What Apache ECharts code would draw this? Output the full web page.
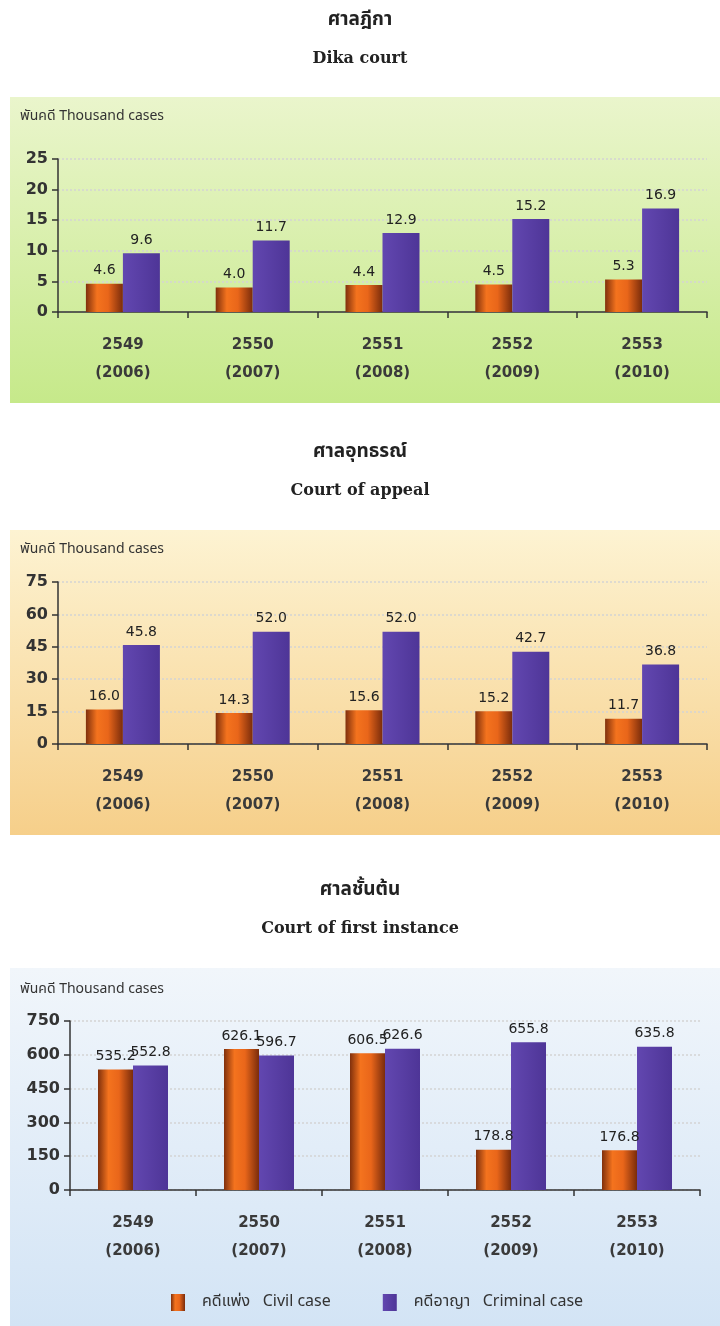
<!DOCTYPE html>
<html>
<head>
<meta charset="utf-8">
<script src="https://cdn.jsdelivr.net/npm/echarts@6/dist/echarts.min.js"></script>
<style>
  html, body { margin: 0; padding: 0; background: #fff; }
  #main { width: 720px; height: 1326px; }
</style>
</head>
<body>
<div id="main"></div>
<script>
// ข้อมูล (พันคดี)
var years = ['2549\n(2006)', '2550\n(2007)', '2551\n(2008)', '2552\n(2009)', '2553\n(2010)'];
var dikaCivil = [4.6, 4.0, 4.4, 4.5, 5.3];
var dikaCriminal = [9.6, 11.7, 12.9, 15.2, 16.9];
var appealCivil = [16.0, 14.3, 15.6, 15.2, 11.7];
var appealCriminal = [45.8, 52.0, 52.0, 42.7, 36.8];
var firstCivil = [535.2, 626.1, 606.5, 178.8, 176.8];
var firstCriminal = [552.8, 596.7, 626.6, 655.8, 635.8];

var civilName = 'คดีแพ่ง   Civil case';
var criminalName = 'คดีอาญา   Criminal case';

var thaiFont = "'Noto Sans Thai', 'Noto Sans', 'DejaVu Sans', sans-serif";
var numFont = "'DejaVu Sans', Verdana, sans-serif";

var orange = new echarts.graphic.LinearGradient(0, 0, 1, 0, [
  { offset: 0, color: '#80300c' },
  { offset: 0.3, color: '#f4731e' },
  { offset: 0.6, color: '#e9661a' },
  { offset: 1, color: '#7a2c0b' }
]);
var purple = new echarts.graphic.LinearGradient(0, 0, 1, 0, [
  { offset: 0, color: '#6247b0' },
  { offset: 1, color: '#4e3597' }
]);

function bg(y, h, top, bottom) {
  return {
    type: 'rect', left: 10, top: y, z: -10,
    shape: { width: 710, height: h },
    style: { fill: new echarts.graphic.LinearGradient(0, 0, 0, 1, [
      { offset: 0, color: top }, { offset: 1, color: bottom }
    ]) }
  };
}

function xAx(i) {
  return {
    type: 'category', gridIndex: i, data: years,
    axisLine: { lineStyle: { color: '#333', width: 1.5 } },
    axisTick: { show: true, length: 6, lineStyle: { color: '#333', width: 1.5 } },
    axisLabel: { color: '#3a3a3a', fontFamily: numFont, fontSize: 15, fontWeight: 'bold', lineHeight: 28, margin: 19 },
    splitLine: { show: false }
  };
}
function yAx(i, max, step) {
  return {
    type: 'value', gridIndex: i, min: 0, max: max, interval: step,
    axisLine: { show: true, lineStyle: { color: '#333', width: 1.5 } },
    axisTick: { show: true, length: 6, lineStyle: { color: '#333', width: 1.5 } },
    axisLabel: { color: '#333', fontFamily: numFont, fontSize: 16, fontWeight: 'bold', margin: 10 },
    splitLine: { show: true, lineStyle: { color: '#d4d4d4', type: [2, 2], width: 1.5 } }
  };
}
function bar(name, i, data, color, w) {
  return {
    name: name, type: 'bar', xAxisIndex: i, yAxisIndex: i,
    data: data, barWidth: w, barGap: '0%',
    itemStyle: { color: color },
    label: {
      show: true, position: 'top', distance: 6,
      color: '#222', fontFamily: numFont, fontSize: 14,
      formatter: function (p) { return p.value.toFixed(1); }
    }
  };
}
function head(thai, eng, y) {
  return [
    { text: thai, left: 'center', top: y - 8, padding: 0,
      textStyle: { fontFamily: thaiFont, fontSize: 19, fontWeight: 'bold', color: '#222' } },
    { text: eng, left: 'center', top: y + 31, padding: 0,
      textStyle: { fontFamily: "'DejaVu Serif', serif", fontSize: 16, fontWeight: 'bold', color: '#222' } }
  ];
}
function unit(y) {
  return { text: 'พันคดี Thousand cases', left: 20, top: y - 8, padding: 0,
    textStyle: { fontFamily: thaiFont, fontSize: 14, fontWeight: 'normal', color: '#333' } };
}

var chart = echarts.init(document.getElementById('main'), null, { renderer: 'canvas' });
var option = {
  animation: false,
  backgroundColor: '#ffffff',
  title: [].concat(
    head('ศาลฎีกา', 'Dika court', 20),
    head('ศาลอุทธรณ์', 'Court of appeal', 452),
    head('ศาลชั้นต้น', 'Court of first instance', 890),
    [unit(118), unit(551), unit(991)]
  ),
  graphic: [
    bg(97, 306, '#eaf5cc', '#c6e98a'),
    bg(530, 305, '#fdf3d2', '#f6cf8a'),
    bg(968, 358, '#f1f6fb', '#d3e4f5')
  ],
  legend: {
    left: 166, top: 1289, itemWidth: 14, itemHeight: 17, itemGap: 52,
    icon: 'rect',
    data: [civilName, criminalName],
    textStyle: { fontFamily: thaiFont, fontSize: 16, color: '#333', padding: [0, 0, 0, 12] }
  },
  grid: [
    { left: 58, right: 13, top: 159, height: 153 },
    { left: 58, right: 13, top: 582, height: 162 },
    { left: 70, right: 20, top: 1021, height: 169 }
  ],
  xAxis: [xAx(0), xAx(1), xAx(2)],
  yAxis: [yAx(0, 25, 5), yAx(1, 75, 15), yAx(2, 750, 150)],
  series: [
    bar(civilName, 0, dikaCivil, orange, 37),
    bar(criminalName, 0, dikaCriminal, purple, 37),
    bar(civilName, 1, appealCivil, orange, 37),
    bar(criminalName, 1, appealCriminal, purple, 37),
    bar(civilName, 2, firstCivil, orange, 35),
    bar(criminalName, 2, firstCriminal, purple, 35)
  ]
};
chart.setOption(option);
</script>
</body>
</html>
